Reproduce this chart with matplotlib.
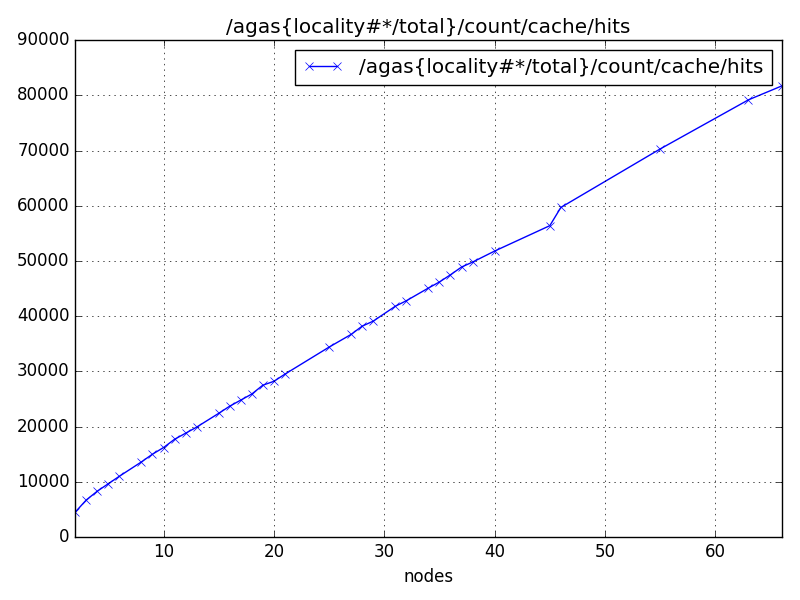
import matplotlib
matplotlib.use('Agg')
import matplotlib.pyplot as plt

plt.style.use('classic')

name = '/agas{locality#*/total}/count/cache/hits'
nodes = [2, 3, 4, 5, 6, 8, 9, 10, 11, 12, 13, 15, 16, 17, 18, 19, 20, 21,
         25, 27, 28, 29, 31, 32, 34, 35, 36, 37, 38, 40, 45, 46, 55, 63, 66]
hits = [4500, 6700, 8300, 9650, 11000, 13600, 15000, 16200, 17700, 18800, 19900,
        22400, 23700, 24800, 25900, 27500, 28200, 29500,
        34400, 36700, 38200, 39100, 41800, 42800, 45100, 46200, 47500, 48900, 49800,
        51800, 56400, 59700, 70300, 79200, 81700]

fig = plt.figure(figsize=(8, 6), dpi=100)
ax = fig.add_subplot(111)
ax.plot(nodes, hits, 'b-x', label=name)
ax.set_xlim(2, 66)
ax.set_ylim(0, 90000)
ax.set_xlabel('nodes')
ax.set_title(name)
ax.grid(True)
ax.legend(loc='upper right')
plt.subplots_adjust(left=0.094, right=0.977, bottom=0.105, top=0.933)
fig.savefig('out.png', dpi=100)
